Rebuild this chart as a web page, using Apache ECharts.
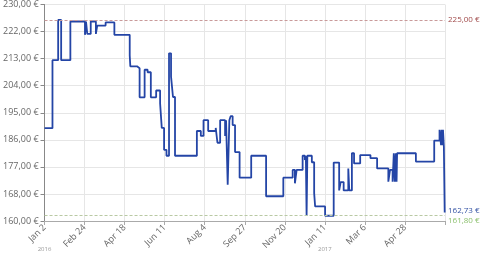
<!DOCTYPE html>
<html><head><meta charset="utf-8">
<script src="https://cdn.jsdelivr.net/npm/echarts@6/dist/echarts.min.js"></script>
<style>html,body{margin:0;padding:0;background:#fff}#c{width:480px;height:257px}</style>
</head><body><div id="c"></div><script>
// x values are days after 2016-01-02
const dayOffsets = [0,10.6,18.2,22.2,34.5,54.0,55.4,57.1,61.7,68.6,70.4,81.6,93.3,113.8,114.6,123.5,127.0,133.7,137.7,142.0,149.1,154.4,156.6,159.7,162.9,166.3,169.0,171.6,174.3,203.5,208.8,212.4,218.6,228.7,231.0,234.6,241.2,242.5,244.7,246.9,248.6,251.3,254.5,260.6,276.1,296.0,319.0,331.5,334.5,336.8,344.8,347.8,349.1,350.1,351.1,357.1,360.2,361.5,374.8,386.3,393.6,395.6,399.6,405.8,407.1,410.6,413.5,421.7,435.4,444.3,459.3,461.6,465.0,466.6,467.9,469.3,470.3,471.0,496.1,520.6,527.7,529.7,530.5,531.5,532.3,533.5,534.6];
const prices = [190,212,225,212,224.5,220.2,224.5,220.5,224.5,220.5,223.2,224.2,220.2,213.5,210,209.4,200,208.9,208.1,200,202.2,198,190.1,183,181.1,214.2,206.7,200.1,181.1,189.1,187.5,192.6,189.1,190.1,185.3,192.6,187.5,192.6,171.7,192.6,193.9,191,182.3,174,181.1,168,174,176.5,172.2,176.5,181.1,179.7,181.1,161.7,181.1,179,169,164.7,161.7,178.9,169.9,172.6,169.9,177,169.9,181.9,178.6,181.3,180.3,177,172.7,176.5,172.7,181.9,172.7,181.9,172.7,181.9,179.2,186,189.5,184.5,189.5,184.5,189.5,184,162.73];
const yTickLabels = ['160,00 €','168,00 €','177,00 €','186,00 €','195,00 €','204,00 €','213,00 €','222,00 €','230,00 €'];
const xTickLabels = ['Jan 2','Feb 24','Apr 18','Jun 11','Aug 4','Sep 27','Nov 20','Jan 11','Mar 6','Apr 28'];
const yearLabels = ['2016','','','','','','','2017','',''];
const refMax = 225.00, refMin = 161.80, lastPrice = 162.73;
const yMin = 160, yMax = 230;
const xStep = 53.5, xMax = 535;

const fmt = v => v.toFixed(2).replace('.', ',') + ' €';
const chart = echarts.init(document.getElementById('c'), null, {renderer:'canvas'});
const font = {fontFamily:'Open Sans', fontSize:9, color:'#666'};
const refFont = {fontFamily:'Open Sans', fontSize:8, distance:3};
chart.setOption({
  animation:false,
  grid:{left:42, right:35, top:4, bottom:36, containLabel:false},
  xAxis:[{
    type:'value', min:0, max:xMax, interval:xStep,
    axisLine:{show:true, lineStyle:{color:'#aaa'}},
    axisTick:{show:true, length:4, lineStyle:{color:'#aaa'}},
    splitLine:{show:true, lineStyle:{color:'#e6e6e6'}},
    axisLabel:Object.assign({rotate:45, margin:5, formatter:(v)=>{const i=Math.round(v/xStep);return xTickLabels[i]||'';}}, font)
  },{
    type:'value', min:0, max:xMax, interval:xStep, position:'bottom',
    axisLine:{show:false}, axisTick:{show:false}, splitLine:{show:false},
    axisLabel:{margin:25, fontFamily:'Open Sans', fontSize:6, color:'#999',
      formatter:(v)=>{const i=Math.round(v/xStep);return yearLabels[i]||'';}}
  }],
  yAxis:[{
    type:'value', min:0, max:8, interval:1,
    axisLine:{show:true, lineStyle:{color:'#888'}},
    axisTick:{show:true, length:4, lineStyle:{color:'#888'}},
    splitLine:{show:true, lineStyle:{color:'#e6e6e6'}},
    axisLabel:Object.assign({margin:6, formatter:(v)=>yTickLabels[Math.round(v)]||''}, font)
  },{
    type:'value', min:yMin, max:yMax, show:false, splitLine:{show:false}
  }],
  series:[{
    type:'line', xAxisIndex:0, yAxisIndex:1, step:'end', symbol:'none',
    data: dayOffsets.map((d,i)=>[d, prices[i]]),
    lineStyle:{color:'#2445a6', width:1.8},
    markLine:{
      silent:true, symbol:'none',
      data:[
        {yAxis:refMax, lineStyle:{color:'#c99a9a', type:[3,2], width:1},
         label:Object.assign({position:'end', formatter:fmt(refMax), color:'#a04a4a'}, refFont)},
        {yAxis:refMin, lineStyle:{color:'#b9c9a3', type:[3,2], width:1},
         label:Object.assign({position:'end', formatter:fmt(refMin), color:'#8cc06e', offset:[0,5]}, refFont)},
        {yAxis:lastPrice, lineStyle:{color:'rgba(255,255,255,0)', width:0},
         label:Object.assign({position:'end', formatter:fmt(lastPrice), color:'#3352a3', offset:[0,-2]}, refFont)}
      ]
    }
  }]
});
</script></body></html>
